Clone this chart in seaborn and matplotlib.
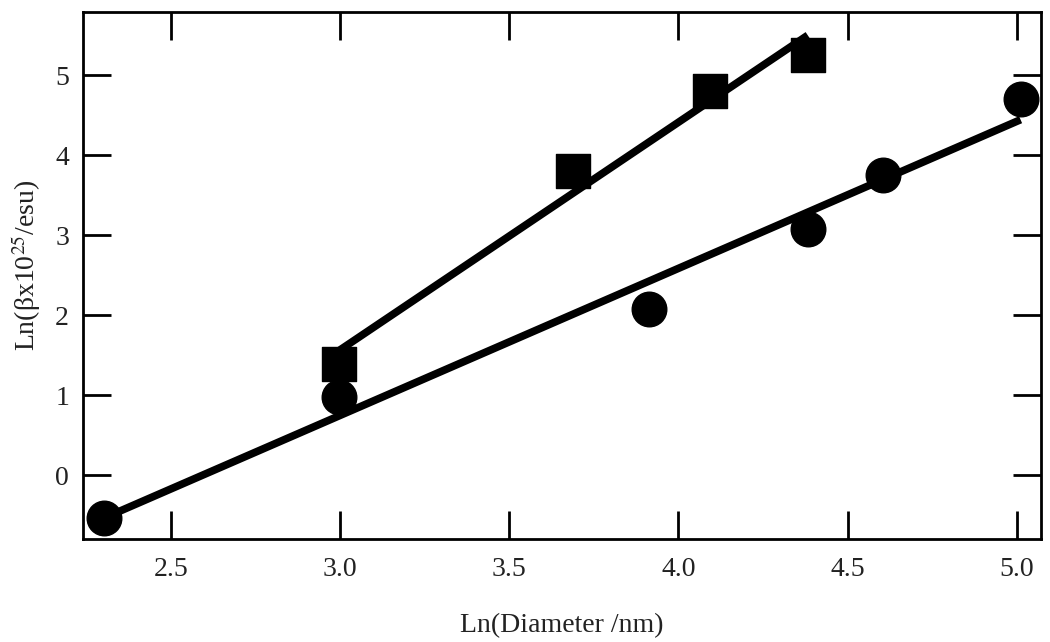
import numpy as np
import pandas as pd
import matplotlib
matplotlib.use("Agg")
import matplotlib.pyplot as plt
import seaborn as sns

# circles: ln(diameter) vs ln(beta)
circle_x = [2.303, 2.996, 3.912, 4.382, 4.605, 5.011]
circle_y = [-0.53, 0.98, 2.08, 3.08, 3.76, 4.70]

# squares
square_x = [2.996, 3.689, 4.094, 4.382]
square_y = [1.39, 3.81, 4.81, 5.26]

x_ticks = [2.5, 3.0, 3.5, 4.0, 4.5, 5.0]
y_ticks = [0, 1, 2, 3, 4, 5]

sns.set_style("ticks")
plt.rcParams['font.family'] = ['Liberation Serif', 'DejaVu Serif']
plt.rcParams['mathtext.fontset'] = 'stix'

circles = pd.DataFrame({"x": circle_x, "y": circle_y})
squares = pd.DataFrame({"x": square_x, "y": square_y})

fig = plt.figure(figsize=(10.5, 6.42), dpi=100)
ax = fig.add_axes([0.079, 0.160, 0.912, 0.821])

# least-squares fit lines through each series
sns.regplot(data=circles, x="x", y="y", ax=ax, ci=None, color="black",
            marker="o", scatter_kws={"s": 620, "alpha": 1, "zorder": 3},
            line_kws={"lw": 5.5, "solid_capstyle": "butt"}, truncate=True)
sns.regplot(data=squares, x="x", y="y", ax=ax, ci=None, color="black",
            marker="s", scatter_kws={"s": 600, "alpha": 1, "zorder": 3},
            line_kws={"lw": 5.5, "solid_capstyle": "butt"}, truncate=True)

ax.set_xlim(2.24, 5.07)
ax.set_ylim(-0.8, 5.79)
ax.set_xticks(x_ticks)
ax.set_xticklabels([f"{t:.1f}" for t in x_ticks])
ax.set_yticks(y_ticks)
ax.set_yticklabels([str(t) for t in y_ticks])

ax.tick_params(direction="in", length=20, width=2, top=True, right=True,
               labeltop=False, labelright=False, labelsize=20,
               labelcolor="#222222", color="black")
ax.tick_params(axis="x", pad=13)
ax.tick_params(axis="y", pad=10)
for sp in ax.spines.values():
    sp.set_linewidth(2)
    sp.set_color("black")
    sp.set_visible(True)

ax.set_xlabel("Ln(Diameter /nm)", fontsize=20, labelpad=22, color="#222222")
ax.set_ylabel(r"Ln(βx10$^{25}$/esu)", fontsize=20, color="#222222")
ax.yaxis.set_label_coords(-0.042, 0.52)

fig.savefig("out.png", dpi=100)
